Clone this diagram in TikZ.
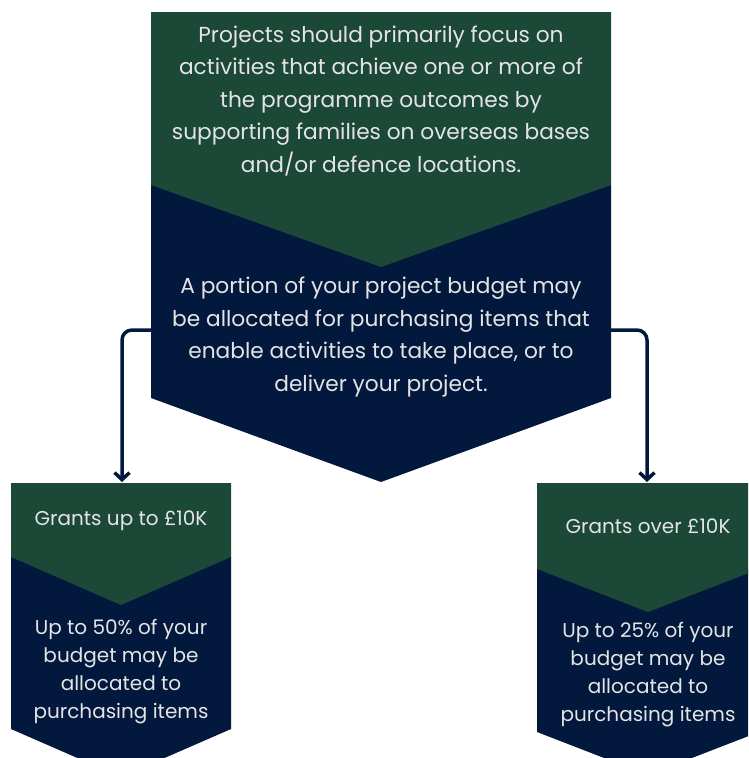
\documentclass[tikz,border=0pt]{standalone}
\usepackage{fontspec}
\setmainfont{Poppins}
\usetikzlibrary{arrows.meta}
\definecolor{boxgreen}{HTML}{1B4837}
\definecolor{boxnavy}{HTML}{03183D}
\definecolor{boxtext}{HTML}{E4E4E4}

\begin{document}
\begin{tikzpicture}[x=1pt,y=-1pt,
    txt/.style={text=boxtext,align=center,font=\fontsize{21.7}{32.5}\selectfont},
    smalltxt/.style={text=boxtext,align=center,font=\fontsize{20}{28}\selectfont},
    link/.style={draw=boxnavy,line width=3.5pt,rounded corners=10pt,-{Straight Barb[length=7pt,width=15pt]}}]
    \useasboundingbox (0,0) rectangle (748,758);
    \clip (0,0) rectangle (748,758);
    % big chevron
    \fill[boxnavy] (151,185) -- (611,185) -- (611,398) -- (381,482) -- (151,398) -- cycle;
    \fill[boxgreen] (151,12) -- (611,12) -- (611,185) -- (381,267) -- (151,185) -- cycle;
    % small chevrons
    \foreach \l/\r/\g/\n/\d in {11/231/557/729/48, 537/759/569/732/43} {
            \pgfmathsetmacro{\m}{(\l+\r)/2}
            \fill[boxnavy] (\l,\g) -- (\r,\g) -- (\r,\n) -- (\m,\n+\d) -- (\l,\n) -- cycle;
            \fill[boxgreen] (\l,483) -- (\r,483) -- (\r,\g) -- (\m,\g+\d) -- (\l,\g) -- cycle;
        }
    \node[txt] (aim) at (381,101) {Projects should primarily focus on\\activities that achieve one or more of\\the programme outcomes by\\supporting families on overseas bases\\and/or defence locations.};
    \node[txt] (budget) at (381,337) {A portion of your project budget may\\be allocated for purchasing items that\\enable activities to take place, or to\\deliver your project.};
    \node[smalltxt] (small) at (121,521) {Grants up to £10K};
    \node[smalltxt] (smallpart) at (121,672) {Up to 50\% of your\\budget may be\\allocated to\\purchasing items};
    \node[smalltxt] (large) at (648,526) {Grants over £10K};
    \node[smalltxt] (largepart) at (648,675) {Up to 25\% of your\\budget may be\\allocated to\\purchasing items};
    \coordinate (budgetL) at (151,330);
    \coordinate (budgetR) at (611,330);
    \coordinate (smalltop) at (122,482);
    \coordinate (largetop) at (647,482);
    \draw[link] (budgetL) -| (smalltop);
    \draw[link] (budgetR) -| (largetop);
\end{tikzpicture}
\end{document}
